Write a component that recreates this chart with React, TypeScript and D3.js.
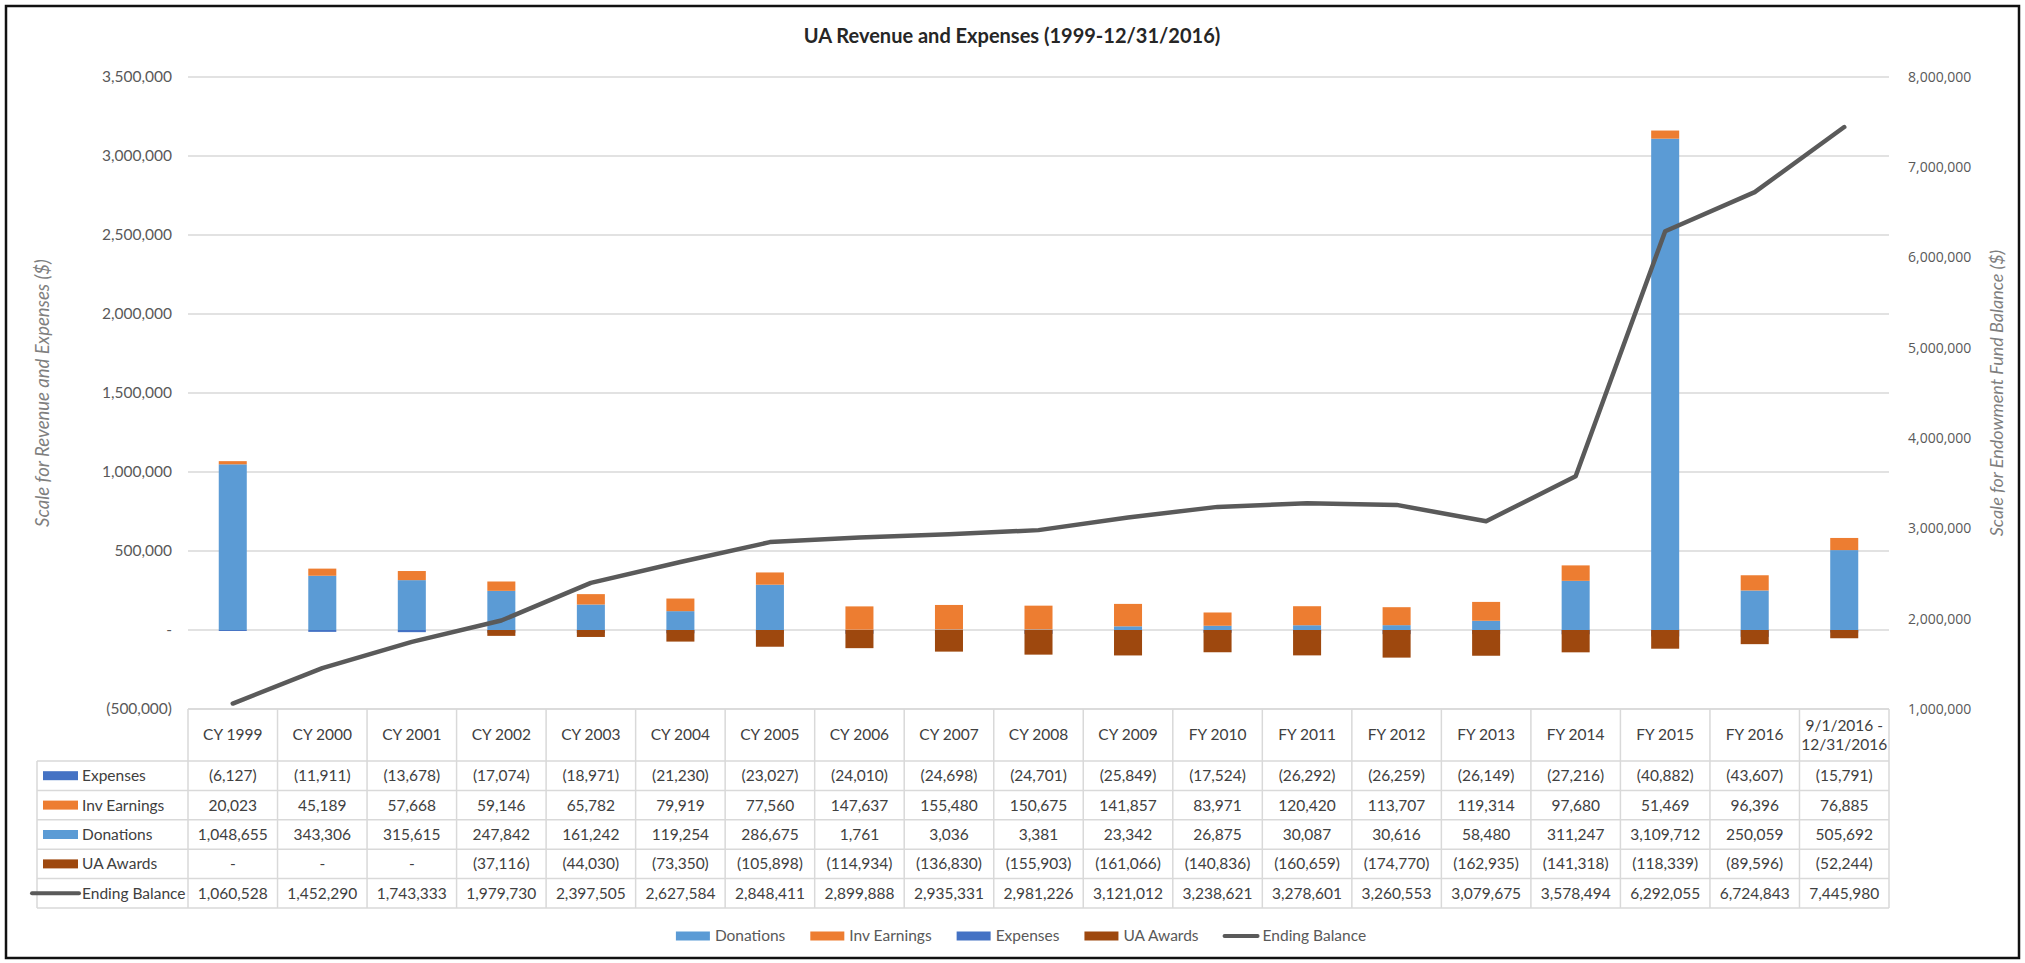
import React, { useEffect, useRef } from 'react';
import * as d3 from 'd3';

const categories = [
  'CY 1999', 'CY 2000', 'CY 2001', 'CY 2002', 'CY 2003', 'CY 2004', 'CY 2005',
  'CY 2006', 'CY 2007', 'CY 2008', 'CY 2009', 'FY 2010', 'FY 2011', 'FY 2012',
  'FY 2013', 'FY 2014', 'FY 2015', 'FY 2016', '9/1/2016 - 12/31/2016',
];

const expenses = [
  -6127, -11911, -13678, -17074, -18971, -21230, -23027, -24010, -24698, -24701,
  -25849, -17524, -26292, -26259, -26149, -27216, -40882, -43607, -15791,
];
const invEarnings = [
  20023, 45189, 57668, 59146, 65782, 79919, 77560, 147637, 155480, 150675,
  141857, 83971, 120420, 113707, 119314, 97680, 51469, 96396, 76885,
];
const donations = [
  1048655, 343306, 315615, 247842, 161242, 119254, 286675, 1761, 3036, 3381,
  23342, 26875, 30087, 30616, 58480, 311247, 3109712, 250059, 505692,
];
const uaAwards = [
  0, 0, 0, -37116, -44030, -73350, -105898, -114934, -136830, -155903,
  -161066, -140836, -160659, -174770, -162935, -141318, -118339, -89596, -52244,
];
const endingBalance = [
  1060528, 1452290, 1743333, 1979730, 2397505, 2627584, 2848411, 2899888, 2935331, 2981226,
  3121012, 3238621, 3278601, 3260553, 3079675, 3578494, 6292055, 6724843, 7445980,
];

const COLORS: Record<string, string> = {
  donations: '#5B9BD5',
  invEarnings: '#ED7D31',
  expenses: '#4472C4',
  uaAwards: '#9E480E',
  endingBalance: '#5a5a5a',
};

const W = 2025;
const H = 963;
const FONT = 'Lato, "Open Sans", sans-serif';

const App: React.FC = () => {
  const svgRef = useRef<SVGSVGElement>(null);

  useEffect(() => {
    if (!svgRef.current) return;
    const svg = d3.select(svgRef.current);
    svg.selectAll('*').remove();

    const left = 188, right = 1889, top = 77, bottom = 709;

    const col = d3.scaleBand<string>().domain(categories).range([left, right]);
    const x = d3.scaleBand<string>().domain(categories).range([left, right])
      .paddingInner(0.687).paddingOuter(0.3435);
    const y = d3.scaleLinear().domain([-500000, 3500000]).range([bottom, top]);
    const y2 = d3.scaleLinear().domain([1000000, 8000000]).range([bottom, top]);

    // frame
    svg.append('rect')
      .attr('x', 6).attr('y', 6).attr('width', 2013).attr('height', 952)
      .attr('fill', 'white').attr('stroke', '#111').attr('stroke-width', 2.5);

    // title
    svg.append('text')
      .attr('x', 1012).attr('y', 36).attr('dy', '0.35em')
      .attr('text-anchor', 'middle')
      .attr('font-family', FONT).attr('font-size', 20).attr('font-weight', 700)
      .attr('fill', '#262626')
      .text('UA Revenue and Expenses (1999-12/31/2016)');

    // gridlines + left axis labels
    const fmt = d3.format(',');
    const acct = (v: number) => (v === 0 ? '-' : v < 0 ? `(${fmt(-v)})` : fmt(v));

    y.ticks(8).forEach((t) => {
      svg.append('line')
        .attr('x1', left).attr('x2', right)
        .attr('y1', y(t)).attr('y2', y(t))
        .attr('stroke', '#d9d9d9').attr('stroke-width', 1.5);
      svg.append('text')
        .attr('x', 172).attr('y', y(t)).attr('dy', '0.35em')
        .attr('text-anchor', 'end')
        .attr('font-family', FONT).attr('font-size', 15.5)
        .attr('fill', '#595959')
        .text(acct(t));
    });

    // right axis labels
    y2.ticks(7).forEach((t) => {
      svg.append('text')
        .attr('x', 1908).attr('y', y2(t)).attr('dy', '0.35em')
        .attr('text-anchor', 'start')
        .attr('font-family', '"Open Sans", sans-serif').attr('font-size', 14)
        .attr('fill', '#595959')
        .text(fmt(t));
    });

    // axis titles
    const midY = (top + bottom) / 2;
    svg.append('text')
      .attr('transform', `translate(43, ${midY}) rotate(-90)`)
      .attr('dy', '0.35em').attr('text-anchor', 'middle')
      .attr('font-family', FONT).attr('font-size', 18.5).attr('font-style', 'italic')
      .attr('fill', '#7f7f7f')
      .text('Scale for Revenue and Expenses ($)');
    svg.append('text')
      .attr('transform', `translate(1997, ${midY}) rotate(-90)`)
      .attr('dy', '0.35em').attr('text-anchor', 'middle')
      .attr('font-family', FONT).attr('font-size', 18).attr('font-style', 'italic')
      .attr('fill', '#7f7f7f')
      .text('Scale for Endowment Fund Balance ($)');

    // revenue bars: donations + inv earnings stacked upward
    const rows = categories.map((c, i) => ({
      cat: c,
      donations: donations[i],
      invEarnings: invEarnings[i],
    }));
    const series = d3.stack<any>().keys(['donations', 'invEarnings'])(rows);
    series.forEach((s) => {
      svg.append('g')
        .attr('fill', COLORS[s.key])
        .selectAll('rect')
        .data(s)
        .join('rect')
        .attr('x', (d: any) => x(d.data.cat)!)
        .attr('width', x.bandwidth())
        .attr('y', (d: any) => y(d[1]))
        .attr('height', (d: any) => y(d[0]) - y(d[1]));
    });

    // expense bars: both hang from zero, awards drawn over expenses
    [
      { key: 'expenses', values: expenses },
      { key: 'uaAwards', values: uaAwards },
    ].forEach((s) => {
      svg.append('g')
        .attr('fill', COLORS[s.key])
        .selectAll('rect')
        .data(s.values)
        .join('rect')
        .attr('x', (_, i) => x(categories[i])!)
        .attr('width', x.bandwidth())
        .attr('y', y(0))
        .attr('height', (d) => y(d) - y(0));
    });

    // ending balance line
    const line = d3.line<number>()
      .x((_, i) => x(categories[i])! + x.bandwidth() / 2)
      .y((d) => y2(d));
    svg.append('path')
      .datum(endingBalance)
      .attr('d', line)
      .attr('fill', 'none')
      .attr('stroke', COLORS.endingBalance)
      .attr('stroke-width', 4.5)
      .attr('stroke-linejoin', 'round')
      .attr('stroke-linecap', 'round');

    // data table
    const headTop = bottom, headBottom = 761, rowH = 29.4, labelLeft = 37;
    const tableRows = [
      { name: 'Expenses', key: 'expenses', values: expenses, kind: 'rect' },
      { name: 'Inv Earnings', key: 'invEarnings', values: invEarnings, kind: 'rect' },
      { name: 'Donations', key: 'donations', values: donations, kind: 'rect' },
      { name: 'UA Awards', key: 'uaAwards', values: uaAwards, kind: 'rect' },
      { name: 'Ending Balance', key: 'endingBalance', values: endingBalance, kind: 'line' },
    ];
    const tableBottom = headBottom + rowH * tableRows.length;
    const grid = svg.append('g').attr('stroke', '#d9d9d9').attr('stroke-width', 1.5);

    grid.append('line').attr('x1', left).attr('x2', right).attr('y1', headTop).attr('y2', headTop);
    for (let r = 0; r <= tableRows.length; r++) {
      const yy = headBottom + r * rowH;
      grid.append('line').attr('x1', labelLeft).attr('x2', right).attr('y1', yy).attr('y2', yy);
    }
    grid.append('line').attr('x1', labelLeft).attr('x2', labelLeft).attr('y1', headBottom).attr('y2', tableBottom);
    categories.forEach((c) => {
      const xx = col(c)!;
      grid.append('line').attr('x1', xx).attr('x2', xx).attr('y1', headTop).attr('y2', tableBottom);
    });
    grid.append('line').attr('x1', right).attr('x2', right).attr('y1', headTop).attr('y2', tableBottom);

    // header labels
    categories.forEach((c) => {
      const cx = col(c)! + col.bandwidth() / 2;
      const parts = c.includes(' - ') ? [c.split(' - ')[0] + ' -', c.split(' - ')[1]] : [c];
      const t = svg.append('text')
        .attr('text-anchor', 'middle')
        .attr('font-family', FONT).attr('font-size', 15.5)
        .attr('fill', '#404040');
      const cy = (headTop + headBottom) / 2;
      parts.forEach((p, i) => {
        t.append('tspan')
          .attr('x', cx)
          .attr('y', cy + (i - (parts.length - 1) / 2) * 19)
          .attr('dy', '0.35em')
          .text(p);
      });
    });

    // rows
    tableRows.forEach((row, r) => {
      const cy = headBottom + r * rowH + rowH / 2;
      if (row.kind === 'rect') {
        svg.append('rect')
          .attr('x', 43).attr('y', cy - 4.5).attr('width', 35).attr('height', 9)
          .attr('fill', COLORS[row.key]);
      } else {
        svg.append('line')
          .attr('x1', 32).attr('x2', 79).attr('y1', cy).attr('y2', cy)
          .attr('stroke', COLORS[row.key]).attr('stroke-width', 4)
          .attr('stroke-linecap', 'round');
      }
      svg.append('text')
        .attr('x', 82).attr('y', cy).attr('dy', '0.35em')
        .attr('font-family', FONT).attr('font-size', 15.5)
        .attr('fill', '#404040')
        .text(row.name);
      row.values.forEach((v, i) => {
        svg.append('text')
          .attr('x', col(categories[i])! + col.bandwidth() / 2)
          .attr('y', cy).attr('dy', '0.35em')
          .attr('text-anchor', 'middle')
          .attr('font-family', FONT).attr('font-size', 15.5)
          .attr('fill', '#404040')
          .text(acct(v));
      });
    });

    // legend
    const legendItems = [
      { name: 'Donations', key: 'donations', kind: 'rect' },
      { name: 'Inv Earnings', key: 'invEarnings', kind: 'rect' },
      { name: 'Expenses', key: 'expenses', kind: 'rect' },
      { name: 'UA Awards', key: 'uaAwards', kind: 'rect' },
      { name: 'Ending Balance', key: 'endingBalance', kind: 'line' },
    ];
    const legend = svg.append('g');
    let cursor = 0;
    legendItems.forEach((it) => {
      const g = legend.append('g').attr('transform', `translate(${cursor},0)`);
      if (it.kind === 'rect') {
        g.append('rect').attr('x', 0).attr('y', -4.5).attr('width', 34).attr('height', 9)
          .attr('fill', COLORS[it.key]);
      } else {
        g.append('line').attr('x1', 1).attr('x2', 34).attr('y1', 0).attr('y2', 0)
          .attr('stroke', COLORS[it.key]).attr('stroke-width', 4).attr('stroke-linecap', 'round');
      }
      const txt = g.append('text')
        .attr('x', 39).attr('y', 0).attr('dy', '0.35em')
        .attr('font-family', FONT).attr('font-size', 15.5)
        .attr('fill', '#595959')
        .text(it.name);
      const tw = (txt.node() as SVGTextElement).getComputedTextLength();
      cursor += 39 + tw + 25;
    });
    const legendW = cursor - 25;
    legend.attr('transform', `translate(${1021 - legendW / 2}, 936)`);
  }, []);

  return (
    <div style={{ position: 'absolute', left: 0, top: 0 }}>
      <svg ref={svgRef} width={W} height={H} style={{ display: 'block' }} />
    </div>
  );
};

export default App;
